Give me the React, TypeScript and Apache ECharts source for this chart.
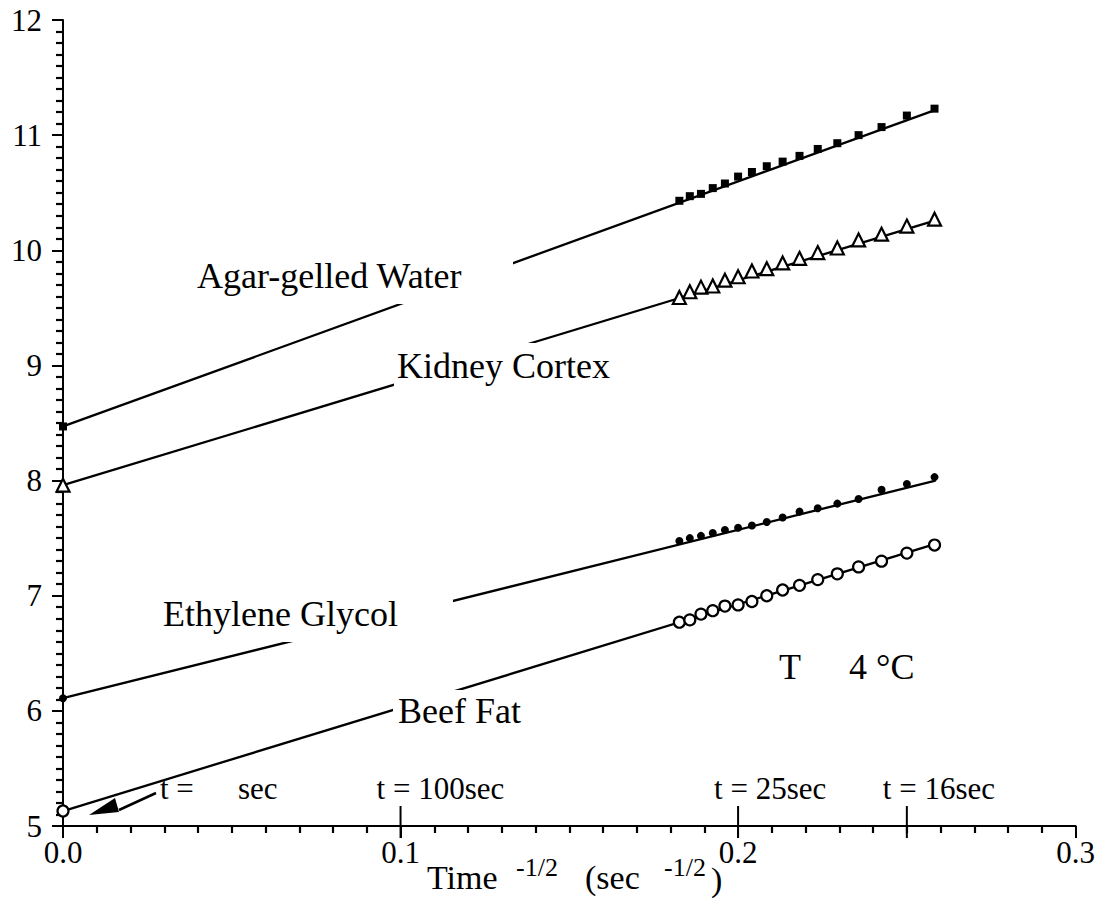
import React, { useEffect, useRef } from "react";
import * as echarts from "echarts";

const FONT = '"Liberation Serif", "Times New Roman", serif';
const AXIS_FONT = "Liberation Serif";

// x = time^-1/2 (sec^-1/2) of the measured points
const xPoints = [0.1826, 0.1857, 0.1890, 0.1925, 0.1961, 0.2000, 0.2041, 0.2085, 0.2132, 0.2182, 0.2236, 0.2294, 0.2357, 0.2425, 0.2500, 0.2582];
const agarY = [10.43, 10.47, 10.49, 10.54, 10.58, 10.64, 10.68, 10.73, 10.77, 10.82, 10.88, 10.93, 11.0, 11.07, 11.17, 11.23];
const kidneyY = [9.59, 9.64, 9.68, 9.69, 9.74, 9.77, 9.82, 9.84, 9.89, 9.93, 9.98, 10.02, 10.09, 10.14, 10.21, 10.27];
const glycolY = [7.475, 7.5, 7.52, 7.545, 7.57, 7.59, 7.61, 7.64, 7.68, 7.73, 7.76, 7.8, 7.84, 7.92, 7.97, 8.03];
const beefY = [6.77, 6.79, 6.84, 6.87, 6.91, 6.92, 6.95, 7.0, 7.05, 7.09, 7.14, 7.19, 7.25, 7.3, 7.37, 7.44];

// extrapolated values at x = 0 (t = infinity) and fitted line ends
const seriesNames = ["Agar-gelled Water", "Kidney Cortex", "Ethylene Glycol", "Beef Fat"];
const intercepts = [8.47, 7.96, 6.11, 5.13];
const fitEnds = [11.22, 10.26, 8.0, 7.45];
const fitEndX = 0.2585;

// time marks on the x axis
const timeMarkX = [0.1, 0.2, 0.25];
const timeMarkLabels = ["t = 100sec", "t = 25sec", "t = 16sec"];

const xTicks = [0, 0.1, 0.2, 0.3];
const yTicks = [5, 6, 7, 8, 9, 10, 11, 12];

export default function App() {
  const ref = useRef<HTMLDivElement>(null);
  useEffect(() => {
    if (!ref.current) return;
    const chart = echarts.init(ref.current, undefined, { renderer: "svg" });
    const ys = [agarY, kidneyY, glycolY, beefY];
    const symbols = [
      { symbol: "rect", size: 8, itemStyle: { color: "#000", opacity: 1 } },
      { symbol: "triangle", size: 13, itemStyle: { color: "#fff", borderColor: "#000", borderWidth: 2.2, opacity: 1 } },
      { symbol: "circle", size: 8, itemStyle: { color: "#000", opacity: 1 } },
      { symbol: "circle", size: 11, itemStyle: { color: "#fff", borderColor: "#000", borderWidth: 2.2, opacity: 1 } },
    ];
    const series: any[] = [];
    seriesNames.forEach((name, i) => {
      series.push({
        name: name + " fit",
        type: "line",
        data: [
          [0, intercepts[i]],
          [fitEndX, fitEnds[i]],
        ],
        symbol: "none",
        lineStyle: { color: "#000", width: 2.3 },
        z: 2,
        silent: true,
      });
      series.push({
        name,
        type: "scatter",
        data: [[0, intercepts[i]]].concat(xPoints.map((x, k) => [x, ys[i][k]])),
        symbol: symbols[i].symbol,
        symbolSize: symbols[i].size,
        itemStyle: symbols[i].itemStyle,
        clip: false,
        z: 3,
      });
    });

    const axisCommon = {
      axisLine: { show: true, lineStyle: { color: "#000", width: 2 } },
      splitLine: { show: false },
      minorSplitLine: { show: false },
    };

    chart.setOption({
      animation: false,
      backgroundColor: "#fff",
      grid: { left: 63, top: 20, width: 1017, height: 806, containLabel: false },
      xAxis: {
        type: "value",
        min: xTicks[0],
        max: xTicks[xTicks.length - 1],
        interval: 0.1,
        ...axisCommon,
        axisTick: { show: true, length: 12, lineStyle: { color: "#000", width: 2 } },
        minorTick: { show: true, splitNumber: 10, length: 7, lineStyle: { color: "#000", width: 2.2 } },
        axisLabel: {
          color: "#000",
          fontFamily: AXIS_FONT,
          fontSize: 31,
          margin: 11,
          formatter: (v: number) => v.toFixed(1),
        },
      },
      yAxis: {
        type: "value",
        min: yTicks[0],
        max: yTicks[yTicks.length - 1],
        interval: 1,
        ...axisCommon,
        axisTick: { show: true, length: 11, lineStyle: { color: "#000", width: 2 } },
        minorTick: { show: true, splitNumber: 10, length: 7, lineStyle: { color: "#000", width: 2.2 } },
        axisLabel: { color: "#000", fontFamily: AXIS_FONT, fontSize: 31, margin: 21 },
      },
      series,
    });

    const px = (x: number, y: number) => chart.convertToPixel({ gridIndex: 0 }, [x, y]) as number[];
    const txt = (text: string, x: number, y: number, size: number, z = 51) => ({
      type: "text",
      x,
      y,
      z,
      style: { text, font: `${size}px ${FONT}`, fill: "#000", align: "left", verticalAlign: "middle" },
    });
    const box = (x: number, y: number, w: number, h: number) => ({
      type: "rect",
      z: 50,
      shape: { x, y, width: w, height: h },
      style: { fill: "#fff" },
    });

    const graphic: any[] = [];
    // label boxes hiding the fitted lines
    graphic.push(box(190, 256, 323, 48));
    graphic.push(txt(seriesNames[0], 197, 276, 36));
    graphic.push(box(394, 343, 225, 49));
    graphic.push(txt(seriesNames[1], 397, 366, 36));
    graphic.push(box(156, 596, 297, 46));
    graphic.push(txt(seriesNames[2], 163, 614, 36));
    graphic.push(box(393, 690, 140, 45));
    graphic.push(txt(seriesNames[3], 398, 711, 36));

    // temperature
    graphic.push(txt("T", 779, 667, 36));
    graphic.push(txt("4 °C", 849, 667, 36));

    // time marks
    timeMarkX.forEach((x, i) => {
      const p = px(x, yTicks[0]);
      graphic.push({
        type: "line",
        z: 51,
        shape: { x1: p[0], y1: p[1] - 20, x2: p[0], y2: p[1] + 12 },
        style: { stroke: "#000", lineWidth: 2 },
      });
      graphic.push(txt(timeMarkLabels[i], p[0] - 24, 788, 31));
    });

    // t = infinity arrow
    graphic.push(txt("t =", 160, 788, 31));
    graphic.push(txt("sec", 238, 788, 31));
    graphic.push({
      type: "polygon",
      z: 51,
      shape: { points: [[89, 815], [115, 798], [119, 812]] },
      style: { fill: "#000" },
    });
    graphic.push({
      type: "line",
      z: 51,
      shape: { x1: 119, y1: 810, x2: 156, y2: 793 },
      style: { stroke: "#000", lineWidth: 2.5 },
    });

    // axis title
    graphic.push(txt("Time", 427, 877, 34));
    graphic.push(txt("-1/2", 516, 867, 26));
    graphic.push(txt("(sec", 585, 877, 34));
    graphic.push(txt("-1/2", 664, 867, 26));
    graphic.push(txt(")", 711, 879, 34));

    chart.setOption({ graphic });

    return () => chart.dispose();
  }, []);
  return (
    <div
      ref={ref}
      style={{ position: "absolute", left: 0, top: 0, width: 1098, height: 905, background: "#fff" }}
    />
  );
}
